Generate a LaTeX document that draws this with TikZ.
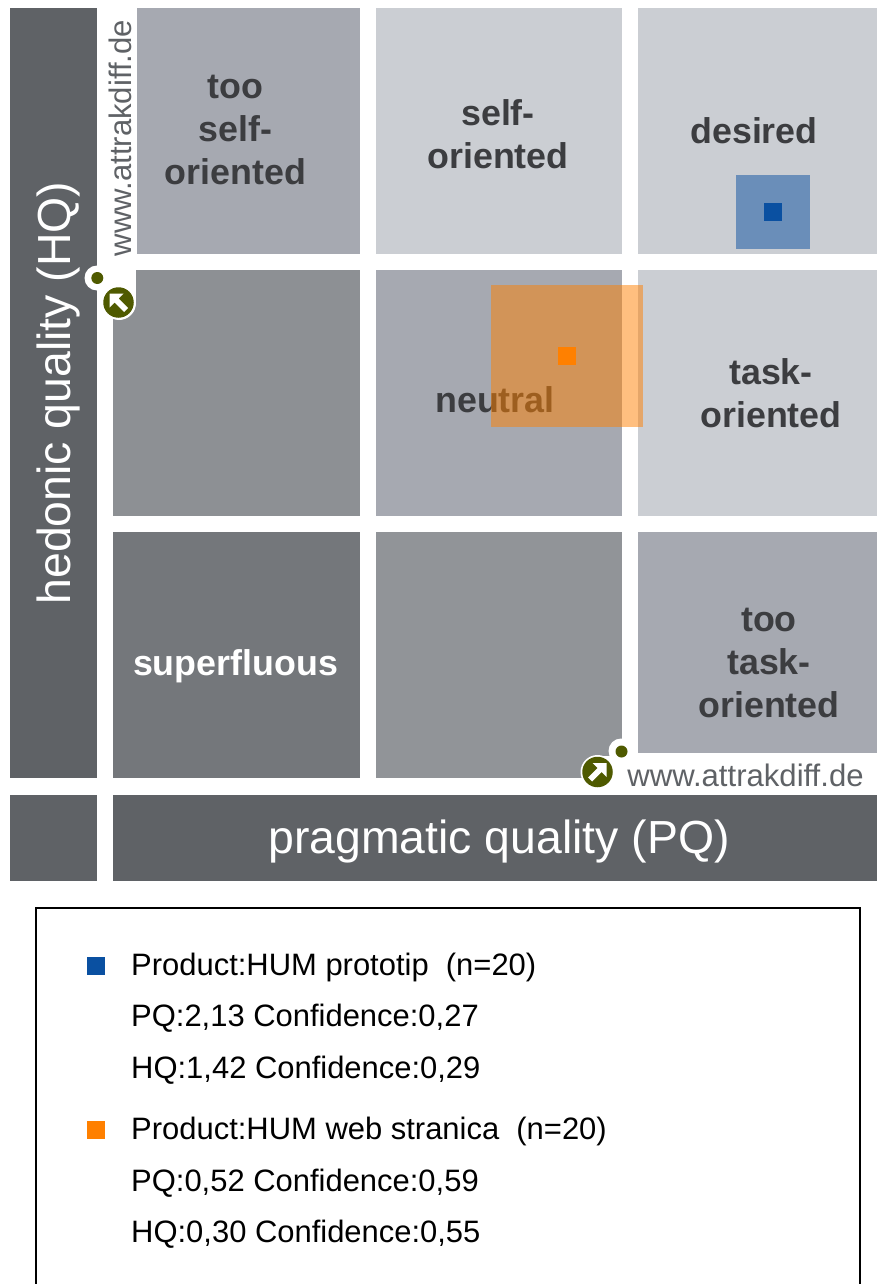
\documentclass[tikz,border=0pt]{standalone}
\usepackage{fontspec}
\setmainfont{Liberation Sans}
\definecolor{barc}{HTML}{5F6266}
\definecolor{cA}{HTML}{CBCED3}
\definecolor{cB}{HTML}{A6A9B1}
\definecolor{cC}{HTML}{8D9094}
\definecolor{cD}{HTML}{919498}
\definecolor{cE}{HTML}{74777B}
\definecolor{txt}{HTML}{3C3D40}
\definecolor{urlc}{HTML}{5F6266}
\definecolor{logo}{HTML}{4F5A00}
\definecolor{blu}{HTML}{0A50A1}
\definecolor{ora}{HTML}{FF8000}
\tikzset{
 cell/.style={inner sep=0pt,outer sep=0pt,anchor=north west},
 lab/.style={font=\bfseries\fontsize{35.8}{43}\selectfont,text=txt,align=center,inner sep=0pt},
 axis/.style={font=\fontsize{46.4}{50}\selectfont,text=white,inner sep=0pt},
 url/.style={font=\fontsize{31.1}{34}\selectfont,text=urlc,inner sep=0pt},
 leg/.style={font=\fontsize{30.95}{34}\selectfont,text=black,inner sep=0pt,anchor=base west},
 halo/.style={circle,fill=white,inner sep=0pt,minimum size=#1},
 lg/.style={circle,fill=logo,inner sep=0pt,minimum size=#1},
 mark box/.style={inner sep=0pt,minimum size=18pt,fill=#1},
}
\newcommand{\cellbox}[6]{\node[cell,fill=#6,minimum width=#4pt-#2pt,minimum height=#5pt-#3pt] (#1) at (#2,#3) {};}
\newcommand{\logoarrow}[3]{\begin{scope}[shift={(#1,#2)},xscale=#3]
 \fill[white] (-9,-9) -- (5,-9) -- (0,-4) -- (9.5,5.5) -- (5.5,9.5) -- (-4,0) -- (-9,5) -- cycle;
 \end{scope}}
\begin{document}
\begin{tikzpicture}[x=1pt,y=-1pt]
\useasboundingbox (0,0) rectangle (877,1284);
\clip (0,0) rectangle (877,1284);
% bars
\cellbox{barL}{10}{8}{97}{778}{barc}
\cellbox{barC}{10}{795}{97}{881}{barc}
\cellbox{barB}{113}{795}{877}{881}{barc}
% cells
\cellbox{c11}{137}{8}{360}{254}{cB}
\cellbox{c12}{376}{8}{622}{254}{cA}
\cellbox{c13}{638}{8}{877}{254}{cA}
\cellbox{c21}{113}{270}{360}{516}{cC}
\cellbox{c22}{376}{270}{622}{516}{cB}
\cellbox{c23}{638}{270}{877}{516}{cA}
\cellbox{c31}{113}{532}{360}{778}{cE}
\cellbox{c32}{376}{532}{622}{778}{cD}
\cellbox{c33}{638}{532}{877}{753}{cB}
% labels
\node[lab] (l11) at (235.5,129.5) {too\\self-\\oriented};
\node[lab] (l12) at (498,134.5) {self-\\oriented};
\node[lab] (l13) at (754,131) {desired};
\node[lab] (l22) at (495,400) {neutral};
\node[lab] (l23) at (771,393) {task-\\oriented};
\node[lab,text=white] (l31) at (235.5,666) {superfluous};
\node[lab] (l33) at (769,662.5) {too\\task-\\oriented};
% axes
\node[axis,rotate=90] (hq) at (58.5,393) {hedonic quality (HQ)};
\node[axis] (pq) at (499,841) {pragmatic quality (PQ)};
% top-left logo
\fill[white] (113,270) rectangle (136,303);
\node[halo=34pt] (h0) at (119,303) {};
\node[halo=25pt] (h1) at (97,278) {};
\node[lg=12pt] (d1) at (97.3,278) {};
\node[lg=30.5pt] (a1) at (118.5,302.5) {};
\logoarrow{118.5}{302.5}{1}
\node[url,rotate=90] (u1) at (120,138) {www.attrakdiff.de};
% bottom-right logo
\node[halo=25pt] (h2) at (621,751) {};
\node[halo=34pt] (h3) at (597.5,772) {};
\fill[white] (597,756) rectangle (622,795);
\node[lg=12pt] (d2) at (621.5,751.5) {};
\node[lg=30.5pt] (a2) at (597.5,772) {};
\logoarrow{597.5}{772}{-1}
\node[url] (u2) at (745.5,775) {www.attrakdiff.de};
% confidence squares
\fill[blu,fill opacity=.5] (736,175) rectangle (810,249);
\node[mark box=blu] (m1) at (773,212) {};
\fill[ora,fill opacity=.5] (491,285) rectangle (643,427);
\node[mark box=ora] (m2) at (567,356) {};
% legend
\draw[black,line width=2.4pt] (36,908) rectangle (860,1320);
\node[mark box=blu] (k1) at (96,966) {};
\node[mark box=ora] (k2) at (96,1130) {};
\node[leg] (t1) at (131,975) {Product:HUM prototip\ \ (n=20)};
\node[leg] (t2) at (131,1026) {PQ:2,13 Confidence:0,27};
\node[leg] (t3) at (131,1078) {HQ:1,42 Confidence:0,29};
\node[leg] (t4) at (131,1139) {Product:HUM web stranica\ \ (n=20)};
\node[leg] (t5) at (131,1191) {PQ:0,52 Confidence:0,59};
\node[leg] (t6) at (131,1242) {HQ:0,30 Confidence:0,55};
\end{tikzpicture}
\end{document}
